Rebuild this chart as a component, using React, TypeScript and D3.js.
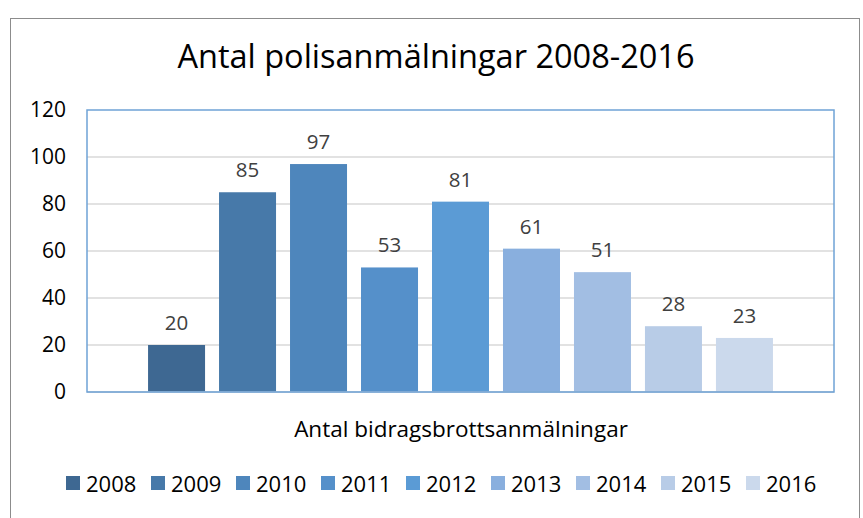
import React from "react";
import * as d3 from "d3";

const years = ["2008", "2009", "2010", "2011", "2012", "2013", "2014", "2015", "2016"];
const values = [20, 85, 97, 53, 81, 61, 51, 28, 23];
const colors = ["#3E6892", "#4779A9", "#4E86BC", "#5590CA", "#5B9BD5", "#89AFDE", "#A2BEE3", "#B8CCE7", "#CBD9EC"];
const yTicks = [0, 20, 40, 60, 80, 100, 120];
const title = "Antal polisanmälningar 2008-2016";
const xLabel = "Antal bidragsbrottsanmälningar";

const W = 863, H = 518;
const plot = { left: 87, right: 834, top: 110, bottom: 392 };
const FONT = "'Open Sans', 'Noto Sans', sans-serif";

export default function App() {
  const x = d3.scaleBand<string>().domain(years).range([plot.left, plot.right]).paddingInner(0.197).paddingOuter(0.86);
  const y = d3.scaleLinear().domain([0, 120]).range([plot.bottom, plot.top]);
  const legendX = d3.scaleLinear().domain([0, years.length - 1]).range([66, 746]);

  return (
    <svg width={W} height={H} style={{ position: "absolute", left: 0, top: 0, background: "#fff" }}>
      <rect x={10.5} y={18.5} width={849} height={510} fill="#fff" stroke="#8c8c8c" strokeWidth={1} />
      <text x={436} y={68} textAnchor="middle" fontFamily={FONT} fontSize={32.5} fill="#000">{title}</text>
      {yTicks.map((t) => (
        <g key={t}>
          {t > 0 && t < 120 && (
            <line x1={plot.left} x2={plot.right} y1={y(t)} y2={y(t)} stroke="#d9d9d9" strokeWidth={1.5} />
          )}
          <text x={66} y={y(t)} dy="0.35em" textAnchor="end" fontFamily={FONT} fontSize={21} fill="#000">{t}</text>
        </g>
      ))}
      {years.map((yr, i) => (
        <g key={yr}>
          <rect x={x(yr)} y={y(values[i])} width={x.bandwidth()} height={y(0) - y(values[i])} fill={colors[i]} />
          <text x={(x(yr) as number) + x.bandwidth() / 2} y={y(values[i]) - 15} textAnchor="middle" fontFamily={FONT} fontSize={20.5} fill="#404040">{values[i]}</text>
        </g>
      ))}
      <line x1={plot.left} x2={plot.right} y1={plot.bottom} y2={plot.bottom} stroke="#c8ccd4" strokeWidth={1.5} />
      <rect x={plot.left} y={plot.top} width={plot.right - plot.left} height={plot.bottom - plot.top} fill="none" stroke="#6fa3d6" strokeWidth={1.5} />
      <text x={461} y={437} textAnchor="middle" fontFamily={FONT} fontSize={22.5} fill="#000">{xLabel}</text>
      {years.map((yr, i) => (
        <g key={"lg" + yr}>
          <rect x={legendX(i)} y={476} width={14} height={14} fill={colors[i]} />
          <text x={legendX(i) + 20} y={484} dy="0.35em" fontFamily={FONT} fontSize={22} fill="#000">{yr}</text>
        </g>
      ))}
    </svg>
  );
}
